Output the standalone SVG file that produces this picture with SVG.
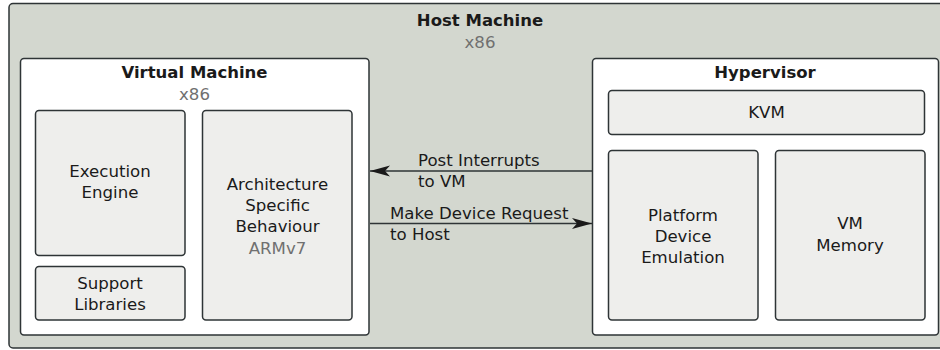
<svg xmlns="http://www.w3.org/2000/svg" width="940" height="350" viewBox="0 0 940 350">
  <defs>
    <style>
      .host { fill: #d3d7cf; stroke: #2e3436; stroke-width: 1.5; }
      .panel { fill: #ffffff; stroke: #2e3436; stroke-width: 1.5; }
      .box { fill: #eeeeec; stroke: #2e3436; stroke-width: 1.5; }
      text { font-family: "DejaVu Sans", "Liberation Sans", sans-serif; font-size: 16.6px; fill: #1a1a1a; text-anchor: middle; }
      .title { font-weight: bold; font-size: 16.5px; }
      .sub { fill: #707070; }
      .lbl { text-anchor: start; }
      .conn { stroke: #2e3436; stroke-width: 1.5; fill: none; }
    </style>
    <marker id="arr" markerUnits="userSpaceOnUse" markerWidth="22" markerHeight="14" refX="20" refY="6" orient="auto">
      <path d="M20,6 L0,0.5 L5,6 L0,11.5 Z" fill="#1a1a1a"/>
    </marker>
  </defs>

  <g id="host">
    <rect class="host" x="9" y="3.5" width="960" height="344.5" rx="4"/>
    <text class="title" x="480" y="26">Host Machine</text>
    <text class="sub" x="480" y="48">x86</text>
  </g>

  <g id="vm">
    <rect class="panel" x="20.5" y="58.5" width="348.5" height="276.5" rx="3.5"/>
    <text class="title" x="194.5" y="78">Virtual Machine</text>
    <text class="sub" x="194.5" y="100">x86</text>
  </g>

  <g id="execution-engine">
    <rect class="box" x="35.5" y="110.5" width="149.5" height="145" rx="3.5"/>
    <text x="110" y="176.5">Execution</text>
    <text x="110" y="198">Engine</text>
  </g>

  <g id="support-libraries">
    <rect class="box" x="35.5" y="266.5" width="149.5" height="53.5" rx="3.5"/>
    <text x="110" y="289">Support</text>
    <text x="110" y="310">Libraries</text>
  </g>

  <g id="arch">
    <rect class="box" x="202.5" y="110.5" width="149.5" height="209.5" rx="3.5"/>
    <text x="277.5" y="190">Architecture</text>
    <text x="277.5" y="211">Specific</text>
    <text x="277.5" y="232">Behaviour</text>
    <text class="sub" x="277.5" y="254">ARMv7</text>
  </g>

  <g id="hypervisor">
    <rect class="panel" x="592.5" y="58.5" width="346" height="276.5" rx="3.5"/>
    <text class="title" x="765" y="78">Hypervisor</text>
  </g>

  <g id="kvm">
    <rect class="box" x="608.5" y="90.5" width="316" height="44" rx="3.5"/>
    <text x="766.5" y="118">KVM</text>
  </g>

  <g id="platform">
    <rect class="box" x="608.5" y="150.5" width="149.5" height="169.5" rx="3.5"/>
    <text x="683" y="221">Platform</text>
    <text x="683" y="242">Device</text>
    <text x="683" y="263">Emulation</text>
  </g>

  <g id="vm-memory">
    <rect class="box" x="775.5" y="150.5" width="149.5" height="169.5" rx="3.5"/>
    <text x="850" y="229">VM</text>
    <text x="850" y="251">Memory</text>
  </g>

  <g id="connectors">
    <line class="conn" x1="592" y1="171" x2="370" y2="171" marker-end="url(#arr)"/>
    <text class="lbl" x="418" y="166">Post Interrupts</text>
    <text class="lbl" x="418" y="187">to VM</text>
    <line class="conn" x1="370" y1="223.5" x2="592" y2="223.5" marker-end="url(#arr)"/>
    <text class="lbl" x="390" y="219">Make Device Request</text>
    <text class="lbl" x="390" y="240">to Host</text>
  </g>
</svg>
